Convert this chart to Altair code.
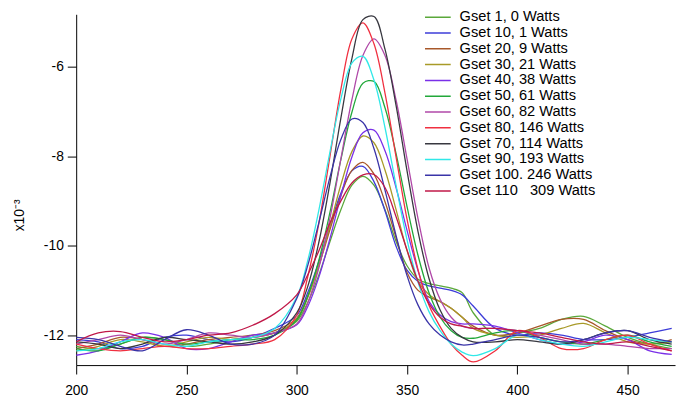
import altair as alt
import pandas as pd

X = [200, 210, 220, 230, 240, 250, 260, 270, 280, 290,
     300, 305, 310, 315, 320, 325, 330, 335, 340, 345, 350, 355, 360, 365, 370, 375, 380,
     390, 400, 410, 420, 430, 440, 450, 460, 470]

names = ["Gset 1, 0 Watts", "Gset 10, 1 Watts", "Gset 20, 9 Watts", "Gset 30, 21 Watts",
         "Gset 40, 38 Watts", "Gset 50, 61 Watts", "Gset 60, 82 Watts", "Gset 80, 146 Watts",
         "Gset 70, 114 Watts", "Gset 90, 193 Watts", "Gset 100. 246 Watts",
         "Gset 110\u00a0\u00a0 309 Watts"]
colors = ["#5aa83a", "#3c3cd8", "#a8582a", "#a89a28", "#7a30e8", "#22a83a",
          "#b048a8", "#f03040", "#383840", "#30e8e8", "#3a34a8", "#c01848"]

gset1 = [-12.25, -12.3, -12.2, -12.05, -12.1, -12.25, -12.2, -12.1, -12.05, -11.95,
         -11.69, -11.27, -10.66, -9.92, -9.2, -8.65, -8.45, -8.65, -9.2, -9.9, -10.45, -10.75, -10.85,
         -10.9, -10.95, -11.05, -11.5,
         -12.0, -11.95, -11.85, -11.65, -11.58, -11.8, -12.05, -12.2, -12.3]
gset10 = [-12.1, -12.15, -12.3, -12.25, -12.05, -12.0, -12.1, -12.15, -12.05, -11.85,
          -11.56, -11.05, -10.36, -9.56, -8.83, -8.33, -8.23, -8.57, -9.22, -10.01, -10.55, -10.8, -10.9,
          -10.95, -11.0, -11.1, -11.35,
          -11.85, -12.0, -11.95, -12.0, -12.1, -12.1, -12.05, -11.95, -11.85]
gset20 = [-12.3, -12.2, -12.05, -12.1, -12.25, -12.2, -12.1, -12.05, -12.0, -11.9,
          -11.62, -11.13, -10.45, -9.65, -8.88, -8.32, -8.14, -8.4, -9.02, -9.82, -10.6, -11.0, -11.15,
          -11.25, -11.4, -11.6, -11.8,
          -12.0, -11.95, -11.8, -11.65, -11.65, -11.9, -12.1, -12.2, -12.1]
gset30 = [-12.35, -12.25, -12.1, -12.15, -12.25, -12.15, -12.05, -12.1, -12.05, -11.95,
          -11.65, -11.16, -10.45, -9.56, -8.64, -7.9, -7.55, -7.7, -8.31, -9.19, -10.11, -10.8, -11.1,
          -11.25, -11.4, -11.6, -11.85,
          -12.0, -12.05, -12.0, -11.85, -11.74, -11.95, -12.15, -12.2, -12.15]
gset40 = [-12.45, -12.35, -12.15, -11.95, -12.05, -12.3, -12.3, -12.15, -12.0, -11.95,
          -11.77, -11.36, -10.71, -9.85, -8.89, -8.02, -7.48, -7.42, -7.88, -8.7, -9.66, -10.56, -11.25,
          -11.55, -11.7, -11.75, -11.75,
          -11.8, -11.95, -12.1, -12.2, -12.15, -12.0, -12.1, -12.35, -12.43]
gset50 = [-12.3, -12.35, -12.2, -12.05, -12.1, -12.2, -12.15, -12.1, -12.1, -12.0,
          -11.66, -11.13, -10.33, -9.27, -8.08, -7.02, -6.37, -6.33, -6.92, -7.94, -9.13, -10.22, -11.06,
          -11.6, -11.9, -12.05, -12.07,
          -11.95, -11.9, -12.05, -12.15, -12.2, -12.1, -12.0, -12.15, -12.25]
gset60 = [-12.2, -12.1, -12.0, -12.1, -12.2, -12.1, -11.95, -12.0, -12.05, -11.95,
          -11.75, -11.28, -10.5, -9.4, -8.06, -6.74, -5.75, -5.38, -5.75, -6.74, -8.06, -9.4, -10.5,
          -11.2, -11.6, -11.8, -11.85,
          -11.85, -11.9, -12.0, -12.1, -12.2, -12.2, -12.25, -12.3, -12.3]
gset80 = [-12.2, -12.3, -12.35, -12.3, -12.25, -12.3, -12.3, -12.25, -12.2, -12.1,
          -11.55, -10.69, -9.51, -8.02, -6.51, -5.38, -5.02, -5.49, -6.59, -8.01, -9.41, -10.54, -11.34,
          -11.81, -12.2, -12.45, -12.6,
          -12.35, -11.9, -12.05, -12.3, -12.3, -12.1, -12.0, -12.2, -12.35]
gset70 = [-12.15, -12.2, -12.3, -12.2, -12.05, -12.1, -12.15, -12.2, -12.15, -12.0,
          -11.5, -10.91, -9.93, -8.62, -7.15, -5.82, -4.95, -4.88, -5.61, -6.86, -8.33, -9.69, -10.74,
          -11.44, -11.85, -12.05, -12.15,
          -12.15, -12.1, -12.15, -12.2, -12.1, -11.95, -11.9, -12.1, -12.2]
gset90 = [-12.35, -12.3, -12.15, -12.1, -12.2, -12.25, -12.15, -12.1, -12.05, -11.85,
          -11.15, -10.33, -9.21, -7.92, -6.72, -5.92, -5.77, -6.3, -7.36, -8.65, -9.87, -10.82, -11.48,
          -11.9, -12.2, -12.38, -12.46,
          -12.3, -12.0, -12.1, -12.2, -12.25, -12.15, -12.05, -12.1, -12.15]
gset100 = [-12.05, -12.1, -12.25, -12.35, -12.1, -11.88, -12.0, -12.2, -12.2, -12.0,
           -11.18, -10.44, -9.49, -8.48, -7.63, -7.17, -7.25, -7.83, -8.76, -9.77, -10.67, -11.33, -11.75,
           -12.0, -12.15, -12.22, -12.2,
           -12.1, -12.0, -12.05, -12.15, -12.1, -11.95, -11.9, -12.05, -12.15]
gset110 = [-12.15, -11.95, -11.92, -12.05, -12.15, -12.1, -12.0, -11.95, -11.78, -11.52,
           -11.1, -10.65, -10.12, -9.5, -9.0, -8.6, -8.42, -8.41, -8.7, -9.35, -10.1, -10.8, -11.3,
           -11.6, -11.75, -11.8, -11.85,
           -11.85, -11.9, -11.95, -12.05, -12.15, -12.2, -12.15, -12.25, -12.35]

all_series = [gset1, gset10, gset20, gset30, gset40, gset50, gset60, gset80,
              gset70, gset90, gset100, gset110]

rows = []
for k, (nm, vals) in enumerate(zip(names, all_series)):
    for xi, yi in zip(X, vals):
        rows.append({"x": xi, "y": yi, "series": nm, "k": k})
df = pd.DataFrame(rows)

FONT = "Liberation Sans"

chart = alt.Chart(df).mark_line(
    strokeWidth=1.3, interpolate="catmull-rom", clip=True
).encode(
    x=alt.X("x:Q",
            scale=alt.Scale(domain=[200, 471.5], nice=False, zero=False),
            axis=alt.Axis(values=[200, 250, 300, 350, 400, 450], title=None, grid=False,
                          tickSize=9, labelPadding=10, labelFontSize=14, labelFont=FONT,
                          labelColor="black", domainColor="black", tickColor="black",
                          labelFlush=False)),
    y=alt.Y("y:Q",
            scale=alt.Scale(domain=[-12.67, -4.83], nice=False, zero=False),
            axis=alt.Axis(values=[-12, -10, -8, -6], title="x10\u207b\u00b3", grid=False,
                          tickSize=9, labelPadding=4, labelFontSize=14, labelFont=FONT,
                          labelColor="black", domainColor="black", tickColor="black",
                          labelExpr="(datum.value < 0 ? '-' : '') + abs(datum.value)",
                          titleFont=FONT, titleFontSize=14, titleFontWeight="normal",
                          titleColor="black", titleX=-57, titleY=203, titleAngle=-90,
                          titleAlign="center", titleBaseline="middle")),
    color=alt.Color("series:N",
                    scale=alt.Scale(domain=names, range=colors),
                    legend=alt.Legend(title=None, orient="none", legendX=352, legendY=-5,
                                      symbolType="stroke", symbolSize=676,
                                      symbolStrokeWidth=1.5, labelFont=FONT,
                                      labelFontSize=14.8, labelColor="black",
                                      labelOffset=8, clipHeight=15.85, rowPadding=-1.15,
                                      labelLimit=300)),
    order=alt.Order("k:Q"),
).properties(
    width=606, height=355,
    autosize=alt.AutoSizeParams(type="none"),
    padding={"left": 69, "top": 4, "right": 2, "bottom": 37},
).configure_view(stroke=None)

chart.save("out.html", embed_options={"renderer": "svg", "actions": False})
